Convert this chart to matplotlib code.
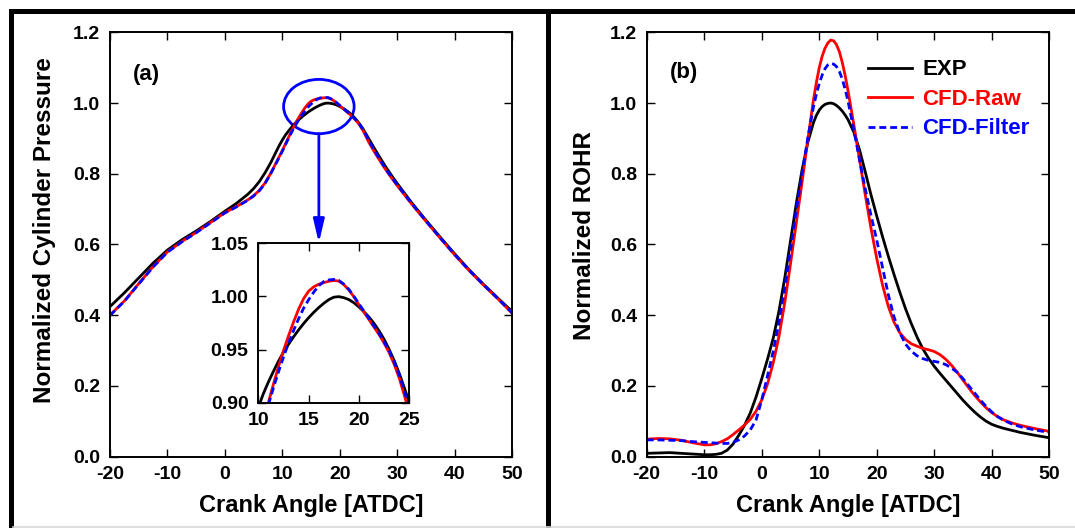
import numpy as np
import matplotlib
matplotlib.use("Agg")
import matplotlib.pyplot as plt
from matplotlib.patches import Ellipse
from matplotlib.lines import Line2D

plt.rcParams['font.family'] = ['Liberation Sans', 'DejaVu Sans']
plt.rcParams['font.weight'] = 'bold'
plt.rcParams['axes.labelweight'] = 'bold'
plt.rcParams['axes.unicode_minus'] = False

# (a) normalized cylinder pressure
ca_p = [-20, -17.5, -15, -12.5, -10, -7.5, -5, -2.5, 0, 2, 4, 5, 6, 7, 8, 9, 9.5,
        10, 10.5, 11, 11.5, 12, 12.5, 13, 13.5, 14, 14.5, 15, 15.5, 16, 16.5, 17, 17.5,
        18, 18.5, 19, 19.5, 20, 20.5, 21, 21.5, 22, 22.5, 23, 23.5, 24, 24.5, 25,
        26, 27, 28, 29, 30, 32.5, 35, 37.5, 40, 42.5, 45, 47.5, 50]
p_exp = [0.424, 0.463, 0.505, 0.547, 0.584, 0.613, 0.638, 0.665, 0.694, 0.716, 0.742, 0.758,
         0.778, 0.803, 0.832, 0.865, 0.881,
         0.8955, 0.9085, 0.9195, 0.9295, 0.939, 0.9475, 0.955, 0.962, 0.9685, 0.9745, 0.980,
         0.985, 0.9895, 0.9935, 0.997, 0.9993,
         0.9998, 0.9988, 0.997, 0.994, 0.990, 0.9855, 0.9805, 0.9745, 0.9675, 0.9595, 0.950,
         0.9395, 0.9275, 0.914, 0.900,
         0.872, 0.845, 0.819, 0.795, 0.772, 0.718, 0.668, 0.620, 0.573, 0.528, 0.487, 0.448,
         0.410]
p_raw = [0.400, 0.440, 0.489, 0.537, 0.579, 0.608, 0.634, 0.662, 0.690, 0.707, 0.726, 0.738,
         0.753, 0.774, 0.802, 0.834, 0.850,
         0.866, 0.883, 0.900, 0.9175, 0.934, 0.949, 0.963, 0.976, 0.988, 0.998, 1.005,
         1.009, 1.0115, 1.013, 1.0143, 1.015,
         1.0145, 1.011, 1.006, 0.9995, 0.992, 0.985, 0.978, 0.971, 0.964, 0.956, 0.947,
         0.936, 0.923, 0.907, 0.890,
         0.862, 0.836, 0.811, 0.788, 0.766, 0.714, 0.665, 0.617, 0.570, 0.526, 0.485, 0.446,
         0.405]
p_filt = [0.399, 0.439, 0.488, 0.536, 0.578, 0.607, 0.633, 0.661, 0.689, 0.706, 0.725, 0.737,
          0.752, 0.773, 0.801, 0.832, 0.848,
          0.864, 0.881, 0.898, 0.914, 0.929, 0.943, 0.956, 0.968, 0.979, 0.989, 0.997,
          1.004, 1.010, 1.014, 1.0155, 1.016,
          1.015, 1.0115, 1.0065, 1.000, 0.993, 0.986, 0.979, 0.972, 0.965, 0.957, 0.9485,
          0.938, 0.926, 0.911, 0.895,
          0.866, 0.839, 0.813, 0.790, 0.768, 0.716, 0.666, 0.618, 0.571, 0.527, 0.486, 0.447,
          0.406]

# (b) normalized ROHR
ca_r = [-20, -18, -16, -14, -12, -10, -9, -8, -7, -6, -5, -4, -3, -2, -1, 0, 1, 2, 3, 4, 5,
        6, 7, 8, 9, 9.5, 10, 10.5, 11, 11.5, 12, 12.5, 13, 13.5, 14, 14.5, 15, 16, 17, 18,
        19, 20, 21, 22, 23, 24, 25, 26, 27, 28, 29, 30, 31, 32, 33, 34, 35, 36, 37, 38, 39,
        40, 41, 42, 43.5, 45, 47.5, 50]
r_exp = [0.009, 0.010, 0.011, 0.009, 0.007, 0.005, 0.005, 0.006, 0.009, 0.018, 0.035, 0.060,
         0.088, 0.123, 0.168, 0.220, 0.275, 0.335, 0.412, 0.505, 0.610,
         0.715, 0.810, 0.888, 0.945, 0.965, 0.980, 0.990, 0.996, 0.999, 1.000, 0.998, 0.993,
         0.986, 0.977, 0.966, 0.953, 0.918, 0.868, 0.805,
         0.740, 0.680, 0.622, 0.567, 0.515, 0.465, 0.418, 0.376, 0.338, 0.305, 0.278, 0.255,
         0.235, 0.216, 0.197, 0.178, 0.159, 0.142, 0.126, 0.112, 0.100,
         0.091, 0.085, 0.080, 0.074, 0.068, 0.060, 0.053]
r_raw = [0.049, 0.051, 0.050, 0.046, 0.039, 0.033, 0.033, 0.036, 0.042, 0.050, 0.062, 0.075,
         0.089, 0.105, 0.128, 0.160, 0.205, 0.265, 0.340, 0.435, 0.545,
         0.660, 0.775, 0.895, 1.010, 1.058, 1.100, 1.132, 1.155, 1.170, 1.178, 1.176, 1.165,
         1.145, 1.115, 1.078, 1.035, 0.940, 0.840, 0.740,
         0.645, 0.560, 0.485, 0.425, 0.380, 0.350, 0.331, 0.319, 0.312, 0.306, 0.302, 0.297,
         0.288, 0.275, 0.258, 0.238, 0.216, 0.194, 0.173, 0.155, 0.138,
         0.124, 0.113, 0.104, 0.095, 0.088, 0.079, 0.071]
r_filt = [0.047, 0.047, 0.046, 0.045, 0.042, 0.040, 0.039, 0.038, 0.037, 0.037, 0.040, 0.047,
          0.058, 0.075, 0.103, 0.160, 0.228, 0.298, 0.380, 0.478, 0.585,
          0.695, 0.800, 0.900, 0.990, 1.025, 1.055, 1.079, 1.097, 1.108, 1.112, 1.110, 1.103,
          1.089, 1.068, 1.039, 1.005, 0.925, 0.840, 0.757,
          0.682, 0.612, 0.535, 0.458, 0.395, 0.350, 0.318, 0.298, 0.285, 0.277, 0.272, 0.269,
          0.266, 0.260, 0.250, 0.238, 0.220, 0.200, 0.180, 0.160, 0.142,
          0.126, 0.113, 0.103, 0.092, 0.084, 0.075, 0.068]

xticks = [-20, -10, 0, 10, 20, 30, 40, 50]
yticks = [0.0, 0.2, 0.4, 0.6, 0.8, 1.0, 1.2]
in_xticks = [10, 15, 20, 25]
in_yticks = [0.90, 0.95, 1.00, 1.05]

lw = 2.0
dash = (0, (2.5, 1.4))


def style_axes(ax, fs=14):
    ax.tick_params(direction='in', top=True, right=True, length=5.5, width=1.0,
                   labelsize=fs, pad=7)
    for s in ax.spines.values():
        s.set_linewidth(1.4)


fig = plt.figure(figsize=(10.75, 5.28), dpi=100)
ax1 = fig.add_axes([0.1023, 0.1354, 0.3742, 0.8034])
ax2 = fig.add_axes([0.6016, 0.1354, 0.3745, 0.8034])

# panel a
ax1.plot(ca_p, p_exp, color='k', lw=lw)
ax1.plot(ca_p, p_raw, color='red', lw=lw)
ax1.plot(ca_p, p_filt, color='blue', lw=lw, ls=dash)
ax1.set_xlim(-20, 50)
ax1.set_ylim(0, 1.2)
ax1.set_xticks(xticks)
ax1.set_yticks(yticks)
ax1.yaxis.set_major_formatter(matplotlib.ticker.FormatStrFormatter('%.1f'))
style_axes(ax1)
ax1.set_xlabel('Crank Angle [ATDC]', fontsize=17)
ax1.set_ylabel('Normalized Cylinder Pressure', fontsize=17.5)
ax1.xaxis.set_label_coords(0.5, -0.088)
ax1.yaxis.set_label_coords(-0.134, 0.533)
ax1.text(-16.1, 1.082, '(a)', fontsize=16, va='center', ha='left')

# circle round the peak and arrow down to the zoom box
ax1.add_patch(Ellipse((16.35, 0.990), 12.27, 0.1536, fill=False, ec='blue', lw=lw))
ax1.annotate('', xy=(16.35, 0.604), xytext=(16.35, 0.913),
             arrowprops=dict(arrowstyle='-|>,head_length=1.4,head_width=0.33',
                             mutation_scale=10, color='blue', lw=lw,
                             shrinkA=0, shrinkB=0))

ins = fig.add_axes([0.2403, 0.2373, 0.1405, 0.3019])
ins.plot(ca_p, p_exp, color='k', lw=lw)
ins.plot(ca_p, p_raw, color='red', lw=lw)
ins.plot(ca_p, p_filt, color='blue', lw=lw, ls=dash)
ins.set_xlim(10, 25)
ins.set_ylim(0.90, 1.05)
ins.set_xticks(in_xticks)
ins.set_yticks(in_yticks)
ins.yaxis.set_major_formatter(matplotlib.ticker.FormatStrFormatter('%.2f'))
style_axes(ins)

# panel b
ax2.plot(ca_r, r_exp, color='k', lw=lw, label='EXP')
ax2.plot(ca_r, r_raw, color='red', lw=lw, label='CFD-Raw')
ax2.plot(ca_r, r_filt, color='blue', lw=lw, ls=dash, label='CFD-Filter')
ax2.set_xlim(-20, 50)
ax2.set_ylim(0, 1.2)
ax2.set_xticks(xticks)
ax2.set_yticks(yticks)
ax2.yaxis.set_major_formatter(matplotlib.ticker.FormatStrFormatter('%.1f'))
style_axes(ax2)
ax2.set_xlabel('Crank Angle [ATDC]', fontsize=17)
ax2.set_ylabel('Normalized ROHR', fontsize=17.5)
ax2.xaxis.set_label_coords(0.5, -0.088)
ax2.yaxis.set_label_coords(-0.127, 0.522)
ax2.text(-15.95, 1.086, '(b)', fontsize=16, va='center', ha='left')

leg = ax2.legend(loc='upper left', bbox_to_anchor=(0.549, 0.936), frameon=False,
                 fontsize=16, handlelength=2.0, handletextpad=0.45, labelspacing=0.38,
                 borderpad=0, borderaxespad=0)
for txt, c in zip(leg.get_texts(), ['k', 'red', 'blue']):
    txt.set_color(c)

# panel frames
fr = dict(color='k', lw=3.6, solid_capstyle='projecting', transform=fig.transFigure)
fig.add_artist(Line2D([10.5 / 1075, 1.0], [1 - 10.5 / 528] * 2, **fr))
fig.add_artist(Line2D([10.5 / 1075] * 2, [0, 1 - 10.5 / 528], **fr))
fig.add_artist(Line2D([547.5 / 1075] * 2, [0, 1 - 10.5 / 528], **fr))
fig.add_artist(Line2D([13 / 1075, 1.0], [1.0 / 528] * 2, color='#d9d9d9', lw=1.2,
                      transform=fig.transFigure))

fig.savefig('out.png', dpi=100)
